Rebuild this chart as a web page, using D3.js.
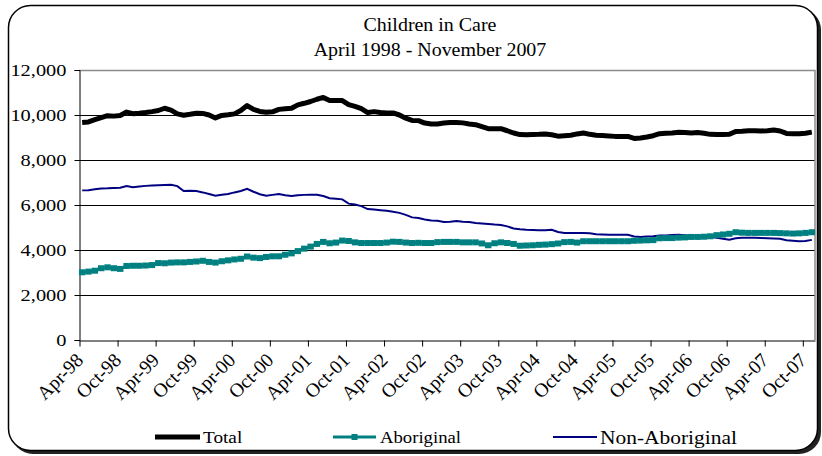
<!DOCTYPE html>
<html><head><meta charset="utf-8">
<script src="https://cdn.jsdelivr.net/npm/d3@7"></script>
<style>html,body{margin:0;padding:0;background:#fff;}svg{display:block;}</style>
</head><body><svg id="chart" width="822" height="456"></svg>
<script>
const titleLines = ["Children in Care", "April 1998 - November 2007"];
const seriesNames = ["Total", "Aboriginal", "Non-Aboriginal"];
const yTicks = [0, 2000, 4000, 6000, 8000, 10000, 12000];
const tickLabels = ["Apr-98","Oct-98","Apr-99","Oct-99","Apr-00","Oct-00","Apr-01","Oct-01","Apr-02","Oct-02",
  "Apr-03","Oct-03","Apr-04","Oct-04","Apr-05","Oct-05","Apr-06","Oct-06","Apr-07","Oct-07"];
const months = d3.timeMonth.range(new Date(1998, 3, 1), new Date(2007, 11, 1)); // Apr 1998 .. Nov 2007
const total = [9670,9690,9790,9880,9970,9950,9980,10130,10060,10080,10110,10150,10200,10300,10220,10050,9990,10030,10080,10070,
  10000,9870,9980,10010,10050,10200,10420,10250,10160,10120,10140,10250,10280,10300,10450,10520,10600,10700,10780,10640,
  10640,10640,10460,10380,10280,10110,10150,10110,10090,10090,10000,9860,9760,9750,9640,9600,9600,9640,9670,9670,
  9650,9600,9570,9480,9390,9390,9390,9300,9200,9130,9120,9130,9140,9160,9120,9060,9080,9100,9160,9200,
  9140,9100,9090,9070,9050,9050,9050,8960,8980,9020,9080,9170,9190,9200,9230,9220,9200,9220,9190,9140,
  9130,9130,9140,9270,9280,9300,9300,9290,9300,9330,9290,9180,9170,9170,9190,9240];
const aboriginal = [3010,3040,3080,3190,3230,3190,3160,3290,3300,3300,3310,3330,3420,3410,3440,3450,3450,3470,3490,3520,
  3470,3440,3500,3540,3580,3610,3710,3660,3640,3690,3720,3720,3790,3850,3950,4060,4150,4270,4360,4300,
  4330,4420,4400,4340,4310,4310,4310,4310,4330,4370,4360,4330,4310,4320,4310,4310,4350,4360,4360,4360,
  4340,4340,4340,4290,4210,4300,4340,4310,4270,4190,4200,4210,4230,4240,4260,4290,4350,4360,4330,4390,
  4390,4390,4390,4390,4390,4390,4390,4410,4420,4430,4440,4520,4530,4530,4550,4560,4580,4580,4590,4610,
  4660,4690,4720,4790,4770,4760,4760,4760,4760,4760,4750,4740,4730,4740,4760,4790];
const nonAboriginal = [6650,6660,6700,6730,6740,6760,6770,6840,6790,6820,6850,6870,6880,6890,6900,6840,6620,6630,6620,6560,
  6490,6410,6460,6490,6560,6620,6720,6590,6480,6410,6450,6490,6430,6400,6430,6450,6460,6460,6400,6300,
  6280,6250,6060,6020,5950,5820,5800,5770,5740,5700,5650,5560,5450,5420,5360,5310,5300,5240,5260,5290,
  5260,5240,5200,5180,5160,5130,5110,5050,4960,4920,4900,4890,4880,4880,4900,4800,4760,4760,4760,4760,
  4740,4700,4690,4680,4680,4680,4680,4600,4580,4600,4610,4640,4650,4670,4680,4660,4630,4610,4600,4580,
  4540,4500,4460,4520,4540,4540,4540,4530,4520,4510,4500,4430,4410,4390,4400,4450];

const FONT = "'Liberation Serif','Times New Roman',serif";
const svg = d3.select("#chart");
const L = 79, R = 815, T = 70, B = 340;

// frame with shadow
svg.append("rect").attr("x", 11).attr("y", 8).attr("width", 810).attr("height", 446).attr("rx", 22).attr("fill", "#222");
svg.append("rect").attr("x", 8.5).attr("y", 5.5).attr("width", 809).attr("height", 445).attr("rx", 22)
  .attr("fill", "#fff").attr("stroke", "#000").attr("stroke-width", 1.5);

// title
svg.append("g").selectAll("text").data(titleLines).join("text")
  .attr("transform", (d, i) => `translate(430,${31 + i * 25}) scale(1.05,1)`)
  .attr("text-anchor", "middle").style("font-family", FONT).attr("font-size", 19).attr("fill", "#000").text(d => d);

const x = d3.scaleLinear().domain([0, months.length]).range([L, R]);
const y = d3.scaleLinear().domain([0, 12000]).range([B, T]);

// grid
svg.append("g").selectAll("line").data(yTicks.filter(v => v > 0 && v < 12000)).join("line")
  .attr("x1", L).attr("x2", R).attr("y1", d => y(d) + 0.5).attr("y2", d => y(d) + 0.5)
  .attr("stroke", "#000").attr("stroke-width", 1);
// plot border top/right gray
svg.append("path").attr("d", `M${L},${T + 0.5}H${R}V${B}`).attr("fill", "none").attr("stroke", "#8c8c8c").attr("stroke-width", 1.5);

// y axis
const yAxis = svg.append("g").attr("transform", `translate(${L + 0.5},0)`)
  .call(d3.axisLeft(y).tickValues(yTicks).tickFormat(d3.format(",")).tickSize(5).tickPadding(8));
yAxis.select(".domain").attr("stroke", "#000");
yAxis.selectAll(".tick text").style("font-family", FONT).attr("font-size", 17).attr("fill", "#000").each(function () {
  const t = d3.select(this); const xx = +t.attr("x");
  t.attr("x", 0).attr("transform", `translate(${xx},0) scale(1.2,1)`);
});

// x axis
const tickIdx = tickLabels.map((d, i) => i * 6);
const xAxis = svg.append("g").attr("transform", `translate(0,${B + 0.5})`)
  .call(d3.axisBottom(x).tickValues(tickIdx).tickFormat((d, i) => tickLabels[i]).tickSize(6).tickSizeOuter(0));
xAxis.select(".domain").attr("stroke", "#000");
xAxis.selectAll(".tick line").attr("transform", "translate(0.5,0)");
xAxis.selectAll(".tick text").style("font-family", FONT).attr("font-size", 19.5).attr("fill", "#000")
  .attr("text-anchor", "end").attr("x", 0).attr("y", 0).attr("dy", "0.35em")
  .attr("transform", "translate(0,16) rotate(-45)");

// lines
const line = arr => d3.line().x((d, i) => x(i + 0.5)).y(d => y(d))(arr);
svg.append("path").attr("d", line(nonAboriginal)).attr("fill", "none").attr("stroke", "#000080").attr("stroke-width", 2);
svg.append("path").attr("d", line(aboriginal)).attr("fill", "none").attr("stroke", "#008080").attr("stroke-width", 3);
svg.append("g").selectAll("rect").data(aboriginal).join("rect")
  .attr("x", (d, i) => x(i + 0.5) - 3.2).attr("y", d => y(d) - 3).attr("width", 6.4).attr("height", 6).attr("fill", "#008080");
svg.append("path").attr("d", line(total)).attr("fill", "none").attr("stroke", "#000").attr("stroke-width", 5).attr("stroke-linejoin", "round");

// legend
const lg = svg.append("g");
const ly = 437;
lg.append("line").attr("x1", 155).attr("x2", 200).attr("y1", ly).attr("y2", ly).attr("stroke", "#000").attr("stroke-width", 5);
lg.append("text").attr("transform", `translate(203,${ly + 6}) scale(1.1,1)`).style("font-family", FONT).attr("font-size", 17.5).text(seriesNames[0]);
lg.append("line").attr("x1", 333).attr("x2", 376).attr("y1", ly).attr("y2", ly).attr("stroke", "#008080").attr("stroke-width", 3);
lg.append("rect").attr("x", 351.5).attr("y", ly - 3).attr("width", 6).attr("height", 6).attr("fill", "#008080");
lg.append("text").attr("transform", `translate(380,${ly + 6}) scale(1.1,1)`).style("font-family", FONT).attr("font-size", 17).text(seriesNames[1]);
lg.append("line").attr("x1", 553).attr("x2", 597).attr("y1", ly).attr("y2", ly).attr("stroke", "#000080").attr("stroke-width", 2);
lg.append("text").attr("transform", `translate(600,${ly + 7}) scale(1.1,1)`).style("font-family", FONT).attr("font-size", 19.5).text(seriesNames[2]);
</script></body></html>
